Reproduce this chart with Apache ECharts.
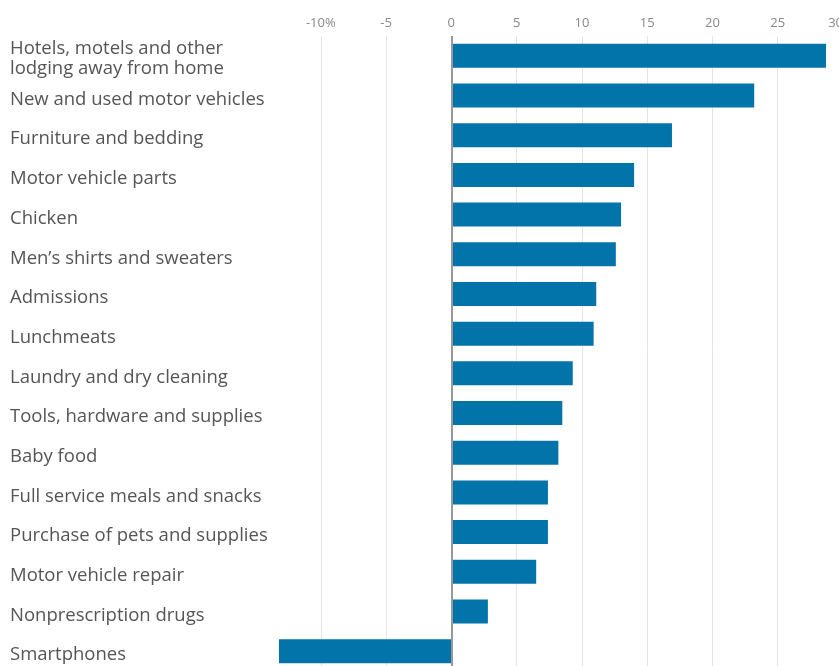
<!DOCTYPE html>
<html><head><meta charset="utf-8">
<script src="https://cdn.jsdelivr.net/npm/echarts@6/dist/echarts.min.js"></script>
<style>html,body{margin:0;padding:0;background:#fff}#c{width:839px;height:666px}</style>
</head><body><div id="c"></div>
<script>
var categories = [
  "Hotels, motels and other\nlodging away from home",
  "New and used motor vehicles",
  "Furniture and bedding",
  "Motor vehicle parts",
  "Chicken",
  "Men\u2019s shirts and sweaters",
  "Admissions",
  "Lunchmeats",
  "Laundry and dry cleaning",
  "Tools, hardware and supplies",
  "Baby food",
  "Full service meals and snacks",
  "Purchase of pets and supplies",
  "Motor vehicle repair",
  "Nonprescription drugs",
  "Smartphones"
];
var values = [28.7, 23.2, 16.9, 14.0, 13.0, 12.6, 11.1, 10.9, 9.3, 8.5, 8.2, 7.4, 7.4, 6.5, 2.8, -13.2];
var tickValues = [-10, -5, 0, 5, 10, 15, 20, 25, 30];
var gridValues = [-10, -5, 5, 10, 15, 20, 25, 30];

var labelFont = {color: '#555', fontSize: 18.5, fontFamily: 'Open Sans', lineHeight: 22};
var chart = echarts.init(document.getElementById('c'), null, {renderer: 'canvas'});
chart.setOption({
  animation: false,
  grid: {left: 279, right: -4, top: 36, height: 635, containLabel: false, outerBoundsMode: 'none'},
  xAxis: {
    type: 'value', position: 'top', min: -13.2, max: 30,
    axisLine: {show: false}, axisTick: {show: false}, splitLine: {show: false},
    axisLabel: {
      customValues: tickValues, margin: 6, alignMaxLabel: 'right',
      color: '#888', fontSize: 13, fontFamily: 'Open Sans',
      formatter: function (v) { return v === -10 ? '-10%' : String(v); }
    }
  },
  yAxis: {
    type: 'category', inverse: true, data: categories,
    axisLine: {show: false}, axisTick: {show: false}, splitLine: {show: false},
    axisLabel: {
      align: 'left', margin: 269, color: '#555', fontSize: 18.5, lineHeight: 22,
      fontFamily: 'Open Sans', interval: 0,
      formatter: function (v) {
        return v.split('\n').map(function (s, i) { return (i === 0 ? '{a|' : '{b|') + s + '}'; }).join('\n');
      },
      rich: {
        a: Object.assign({padding: [8, 0, 0, 0]}, labelFont),
        b: Object.assign({padding: [4, 0, 0, 0]}, labelFont)
      }
    }
  },
  series: [{
    type: 'bar', data: values, barWidth: 24,
    itemStyle: {color: '#0274aa'},
    z: 5,
    markLine: {
      silent: true, symbol: 'none', label: {show: false}, z: 1,
      data: gridValues.map(function (v) { return {xAxis: v, lineStyle: {color: '#e4e4e4', width: 1, type: 'solid'}}; })
    }
  }, {
    type: 'line', data: [], z: 6, symbol: 'none',
    markLine: {
      silent: true, symbol: 'none', label: {show: false}, z: 6,
      data: [{xAxis: 0, lineStyle: {color: '#999', width: 2, type: 'solid'}}]
    }
  }]
});
</script></body></html>
